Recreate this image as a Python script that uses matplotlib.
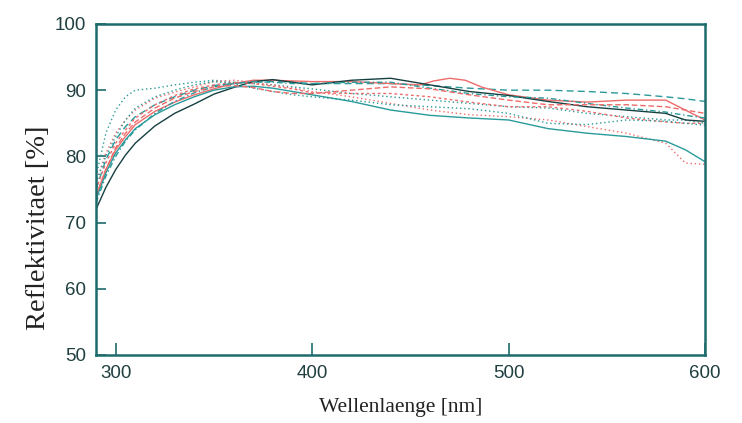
import matplotlib
matplotlib.use("Agg")
import matplotlib.pyplot as plt

# ---- data ----
wavelength = [290, 295, 300, 305, 310, 320, 330, 340, 350, 360, 370, 380, 390,
              400, 420, 440, 460, 480, 500, 520, 540, 560, 580, 590, 600]

curve_a = [77, 83.5, 87, 89, 90, 90.3, 90.8, 91.2, 91.5, 91.2, 91, 90.8, 90.5,
           90.2, 89.5, 89, 88.5, 88, 87.5, 87.3, 86.5, 86, 85.5, 85.5, 85]
curve_b = [76, 80.5, 83.5, 85.5, 87, 88.8, 89.7, 90.5, 91.3, 91.5, 91.2, 90.8, 90.3,
           89.8, 89.0, 88.0, 87.0, 86.3, 86.0, 85.5, 84.5, 83.5, 82.0, 79.0, 78.8]
curve_c = [75, 79.5, 82.5, 84.5, 86, 87.8, 89, 90, 90.7, 91, 91.2, 91.3, 91.2,
           91, 91, 91, 90.7, 90.3, 90, 90, 89.8, 89.5, 89, 88.7, 88.3]
curve_e = [72, 75.3, 78.0, 80.2, 82.0, 84.6, 86.5, 87.9, 89.4, 90.4, 91.3, 91.6, 91.2,
           90.8, 91.5, 91.8, 90.8, 89.8, 89.2, 88.3, 87.5, 87.0, 86.5, 85.5, 85.3]
curve_f = [73.5, 77.5, 80.5, 82.5, 84.2, 86.3, 87.8, 89, 90, 90.5, 90.6, 90.3, 89.8,
           89.3, 88.3, 87.0, 86.2, 85.8, 85.5, 84.2, 83.5, 83.0, 82.3, 81.0, 79.2]
curve_g = [75, 79, 82, 84, 85.8, 87.8, 89.2, 90.2, 90.8, 91.2, 91.0, 90.6, 90.2,
           89.6, 89.5, 89.5, 89.0, 88.2, 87.5, 87.5, 86.8, 85.8, 85.2, 85.0, 85.0]
curve_h = [76, 80, 83, 85.5, 87.3, 89, 90, 90.8, 91.3, 91.0, 90.3, 89.8, 89.3,
           89.0, 88.5, 87.8, 87.5, 87.2, 86.5, 85.0, 84.8, 85.5, 85.3, 85.0, 84.7]
curve_i = [73, 77, 80, 82.3, 84, 86.5, 88.3, 89.6, 90.5, 91, 91.3, 91.2, 91,
           91, 91.2, 91.2, 90.3, 89.5, 89.0, 88.8, 88, 87.3, 86.7, 86.2, 85.8]
curve_j = [74, 78, 81.3, 83.5, 85.2, 87.3, 88.8, 89.8, 90.5, 90.7, 90.4, 89.8, 89.5,
           89.5, 90.0, 90.5, 90.2, 89.3, 88.5, 87.8, 87.8, 87.8, 87.5, 87.0, 86.5]

# curve with the bump near 470 nm has its own sampling
wavelength_d = [290, 295, 300, 305, 310, 320, 330, 340, 350, 360, 370, 380, 390,
                400, 420, 440, 455, 462, 470, 478, 486, 500, 520, 540, 560, 580, 590, 600]
curve_d = [74, 78, 81, 83, 84.8, 86.8, 88.2, 89.3, 90.2, 91, 91.5, 91.5, 91.4,
           91.3, 91.3, 91.0, 90.8, 91.4, 91.8, 91.5, 90.5, 89.3, 88.5, 88.2, 88.5, 88.5, 87, 85.5]

x_ticks = [300, 400, 500, 600]
y_ticks = [50, 60, 70, 80, 90, 100]

TEAL = '#2a9a9a'
RED = '#ee6b6b'
DARK = '#163f40'

series = [
    (wavelength, curve_a, TEAL, (0, (1, 2))),
    (wavelength, curve_b, RED, (0, (1, 2))),
    (wavelength, curve_c, TEAL, (0, (5, 3))),
    (wavelength_d, curve_d, RED, '-'),
    (wavelength, curve_e, DARK, '-'),
    (wavelength, curve_f, TEAL, '-'),
    (wavelength, curve_g, RED, (0, (2, 2))),
    (wavelength, curve_h, TEAL, (0, (1, 2))),
    (wavelength, curve_i, TEAL, (0, (4, 2, 1, 2))),
    (wavelength, curve_j, RED, (0, (4, 2))),
]

fig = plt.figure(figsize=(7.42, 4.23), dpi=100)
ax = fig.add_axes([0.1294, 0.1608, 0.8207, 0.7825])

for xs, ys, col, ls in series:
    ax.plot(xs, ys, color=col, linestyle=ls, linewidth=1.0)

ax.set_xlim(290, 600)
ax.set_ylim(50, 100)
ax.set_xticks(x_ticks)
ax.set_yticks(y_ticks)

for s in ax.spines.values():
    s.set_color('#1d6b6b')
    s.set_linewidth(1.8)

ax.tick_params(axis='both', direction='in', length=9, width=1.2, color='#1d6b6b',
               labelsize=13.5, labelcolor='#203f40', pad=7)
ax.tick_params(axis='y', length=7)
for lab in ax.get_xticklabels() + ax.get_yticklabels():
    lab.set_family(['Liberation Sans', 'DejaVu Sans'])

# tick mark colours as in the reference
xt = ax.xaxis.get_major_ticks()
xt[1].tick1line.set_color(RED)
yt = ax.yaxis.get_major_ticks()
yt[1].tick1line.set_color(RED)
yt[4].tick1line.set_color(RED)

ax.set_xlabel('Wellenlaenge [nm]', family=['Liberation Serif', 'DejaVu Serif'],
              fontsize=15.5, color='#222222', labelpad=12)
ax.set_ylabel('Reflektivitaet [%]', family=['Liberation Serif', 'DejaVu Serif'],
              fontsize=20.5, color='#222222')
ax.yaxis.set_label_coords(-0.074, 0.384)

fig.savefig('out.png', dpi=100, facecolor='white')
